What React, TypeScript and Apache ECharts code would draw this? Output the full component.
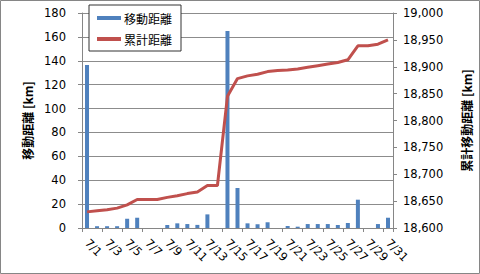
import React, { useEffect, useRef } from "react";
import * as echarts from "echarts";

const categories = [
  "7/1", "7/2", "7/3", "7/4", "7/5", "7/6", "7/7", "7/8", "7/9", "7/10",
  "7/11", "7/12", "7/13", "7/14", "7/15", "7/16", "7/17", "7/18", "7/19", "7/20",
  "7/21", "7/22", "7/23", "7/24", "7/25", "7/26", "7/27", "7/28", "7/29", "7/30", "7/31",
];

const dailyDistance = [
  136.5, 1.5, 1.5, 1.5, 7.8, 8.6, 0, 0, 2.5, 3.9,
  3.3, 2.6, 11.4, 0, 165, 33.5, 3.9, 3.1, 4.8, 0,
  1.7, 1.1, 3.3, 3.3, 3.3, 2.5, 4.2, 23.7, 0, 3.3, 8.6,
];

const cumulativeDistance = [
  18630, 18632, 18634, 18637, 18643, 18653, 18653, 18653, 18657, 18660,
  18664, 18667, 18679, 18679, 18845, 18878, 18883, 18886, 18891, 18893,
  18894, 18896, 18899, 18902, 18905, 18908, 18913, 18939, 18939, 18942, 18950,
];

const seriesNames = ["移動距離", "累計距離"];
const leftAxisTitle = "移動距離 [km]";
const rightAxisTitle = "累計移動距離 [km]";

export default function App() {
  const ref = useRef<HTMLDivElement>(null);

  useEffect(() => {
    if (!ref.current) return;
    const chart = echarts.init(ref.current, undefined, { renderer: "svg" });
    const font = "'DejaVu Sans', Verdana, sans-serif";
    const cjk = "'Noto Sans CJK JP', 'DejaVu Sans', sans-serif";
    chart.setOption({
      animation: false,
      backgroundColor: "#ffffff",
      graphic: [
        {
          type: "rect",
          shape: { x: 0.5, y: 0.5, width: 479, height: 273 },
          style: { fill: "none", stroke: "#868686", lineWidth: 1 },
          silent: true,
          z: 0,
        },
      ],
      grid: { left: 82, right: 85, top: 13, bottom: 46 },
      legend: {
        orient: "vertical",
        left: 89,
        top: 5,
        padding: [7, 9, 6, 8],
        itemGap: 9,
        itemWidth: 24,
        itemHeight: 4,
        borderColor: "#333333",
        borderWidth: 1,
        backgroundColor: "#ffffff",
        textStyle: { fontFamily: cjk, fontSize: 12, color: "#000", padding: [0, 0, 0, -2] },
        data: [
          { name: seriesNames[0], icon: "rect", itemStyle: { color: "#4F81BD" } },
          { name: seriesNames[1], icon: "rect", itemStyle: { color: "#C0504D" } },
        ],
      },
      xAxis: {
        type: "category",
        data: categories,
        boundaryGap: true,
        axisLine: { lineStyle: { color: "#868686", width: 1 } },
        axisTick: { show: true, length: 4, interval: 1, lineStyle: { color: "#868686" } },
        axisLabel: {
          interval: 1,
          rotate: -45,
          margin: 13,
          fontFamily: font,
          fontSize: 11.5,
          color: "#000",
        },
        splitLine: { show: false },
      },
      yAxis: [
        {
          type: "value",
          min: 0,
          max: 180,
          interval: 20,
          name: leftAxisTitle,
          nameLocation: "middle",
          nameRotate: 90,
          nameGap: 43,
          nameTextStyle: { fontFamily: cjk, fontSize: 12, fontWeight: "bold", color: "#000" },
          axisLine: { show: true, lineStyle: { color: "#868686" } },
          axisTick: { show: true, length: 4, lineStyle: { color: "#868686" } },
          axisLabel: { margin: 16, fontFamily: font, fontSize: 11.5, color: "#000" },
          splitLine: { show: true, lineStyle: { color: "#8c8c8c", width: 1 } },
        },
        {
          type: "value",
          min: 18600,
          max: 19000,
          interval: 50,
          position: "right",
          name: rightAxisTitle,
          nameLocation: "middle",
          nameRotate: 90,
          nameGap: 67,
          nameTextStyle: { fontFamily: cjk, fontSize: 12, fontWeight: "bold", color: "#000" },
          axisLine: { show: true, lineStyle: { color: "#868686" } },
          axisTick: { show: true, length: 4, lineStyle: { color: "#868686" } },
          axisLabel: {
            margin: 10,
            fontFamily: font,
            fontSize: 11.5,
            color: "#000",
            formatter: (v: number) => v.toLocaleString("en-US"),
          },
          splitLine: { show: false },
        },
      ],
      series: [
        {
          name: seriesNames[0],
          type: "bar",
          data: dailyDistance,
          barWidth: 4,
          itemStyle: { color: "#4F81BD" },
          yAxisIndex: 0,
        },
        {
          name: seriesNames[1],
          type: "line",
          data: cumulativeDistance,
          yAxisIndex: 1,
          showSymbol: false,
          symbol: "none",
          lineStyle: { color: "#C0504D", width: 3 },
          itemStyle: { color: "#C0504D" },
          z: 3,
        },
      ],
    });
    return () => chart.dispose();
  }, []);

  return (
    <div
      ref={ref}
      style={{ position: "fixed", left: 0, top: 0, width: 480, height: 274 }}
    />
  );
}
